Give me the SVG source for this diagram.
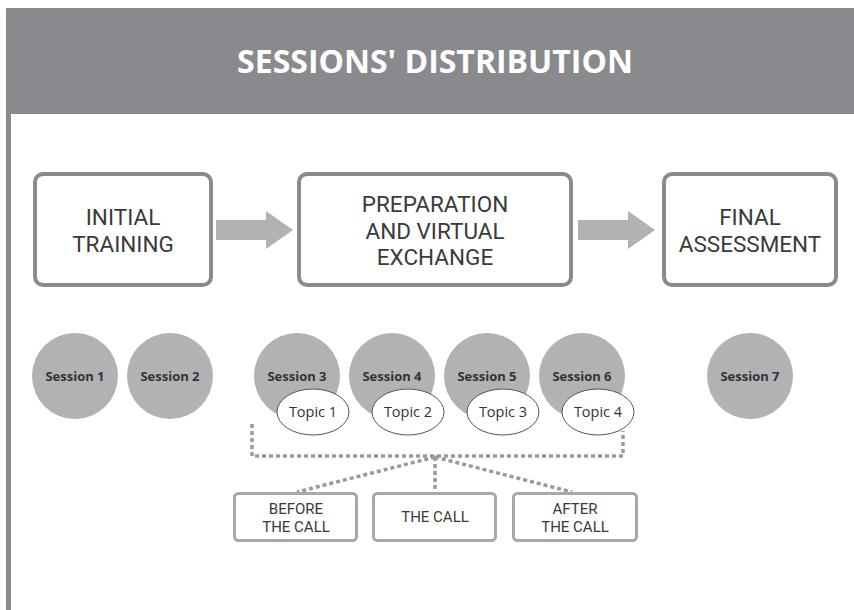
<svg xmlns="http://www.w3.org/2000/svg" width="854" height="610" viewBox="0 0 854 610">
<style>
text{font-family:"Open Sans","Noto Sans","DejaVu Sans",sans-serif;fill:#333;}
.title{font-size:32px;font-weight:bold;fill:#fff;}
.big{font-family:Roboto,"Open Sans",sans-serif;font-size:22.5px;fill:#3a3a3a;}
.box{fill:#fff;stroke:#8b8b8d;stroke-width:4;}
.arrow{fill:#b1b2b4;}
.sess{fill:#b1b2b4;}
.slbl{font-size:13px;font-weight:bold;fill:#333;}
.topic{fill:#fff;stroke:#555;stroke-width:1;}
.tlbl{font-size:14.5px;fill:#333;}
.sbox{fill:#fff;stroke:#a8a8aa;stroke-width:3;}
.small{font-family:Roboto,"Open Sans",sans-serif;font-size:15px;fill:#3a3a3a;}
.dot{fill:none;stroke:#9a9a9c;stroke-width:3.5;stroke-dasharray:4 3;}
</style>
<rect width="854" height="610" fill="#fff"/>
<g id="header">
<rect x="6" y="8" width="848" height="106" fill="#898a8e"/>
<rect x="6" y="8" width="5" height="602" fill="#898a8e"/>
<text class="title" x="435" y="73" text-anchor="middle">SESSIONS' DISTRIBUTION</text>
</g>
<g id="initial-training">
<rect class="box" x="35" y="174" width="176" height="111" rx="8"/>
<text class="big" text-anchor="middle"><tspan x="123" y="225">INITIAL</tspan><tspan x="123" y="252">TRAINING</tspan></text>
</g>
<g id="preparation">
<rect class="box" x="299" y="174" width="272" height="111" rx="8"/>
<text class="big" text-anchor="middle"><tspan x="435" y="212">PREPARATION</tspan><tspan x="435" y="238.5">AND VIRTUAL</tspan><tspan x="435" y="265">EXCHANGE</tspan></text>
</g>
<g id="final-assessment">
<rect class="box" x="664" y="174" width="172" height="111" rx="8"/>
<text class="big" text-anchor="middle"><tspan x="750" y="225">FINAL</tspan><tspan x="750" y="252">ASSESSMENT</tspan></text>
</g>
<g id="connectors">
<polygon class="arrow" points="216,220 266,220 266,211 293,230 266,249 266,240 216,240"/>
<polygon class="arrow" points="578,220 628,220 628,211 655,230 628,249 628,240 578,240"/>
<polyline class="dot" points="252,424 252,456 623,456 623,431"/>
<line class="dot" x1="435" y1="457" x2="297" y2="492"/>
<line class="dot" x1="435" y1="457" x2="435" y2="492"/>
<line class="dot" x1="435" y1="457" x2="572" y2="492"/>
</g>
<g id="session-1"><circle class="sess" cx="75" cy="376" r="43"/><text class="slbl" x="75" y="381" text-anchor="middle">Session 1</text></g>
<g id="session-2"><circle class="sess" cx="170" cy="376" r="43"/><text class="slbl" x="170" y="381" text-anchor="middle">Session 2</text></g>
<g id="session-3"><circle class="sess" cx="297" cy="376" r="43"/><text class="slbl" x="297" y="381" text-anchor="middle">Session 3</text></g>
<g id="session-4"><circle class="sess" cx="392" cy="376" r="43"/><text class="slbl" x="392" y="381" text-anchor="middle">Session 4</text></g>
<g id="session-5"><circle class="sess" cx="487" cy="376" r="43"/><text class="slbl" x="487" y="381" text-anchor="middle">Session 5</text></g>
<g id="session-6"><circle class="sess" cx="582" cy="376" r="43"/><text class="slbl" x="582" y="381" text-anchor="middle">Session 6</text></g>
<g id="session-7"><circle class="sess" cx="750" cy="376" r="43"/><text class="slbl" x="750" y="381" text-anchor="middle">Session 7</text></g>
<g id="topic-1"><ellipse class="topic" cx="313" cy="412" rx="36" ry="23"/><text class="tlbl" x="313" y="417" text-anchor="middle">Topic 1</text></g>
<g id="topic-2"><ellipse class="topic" cx="408" cy="412" rx="36" ry="23"/><text class="tlbl" x="408" y="417" text-anchor="middle">Topic 2</text></g>
<g id="topic-3"><ellipse class="topic" cx="503" cy="412" rx="36" ry="23"/><text class="tlbl" x="503" y="417" text-anchor="middle">Topic 3</text></g>
<g id="topic-4"><ellipse class="topic" cx="598" cy="412" rx="36" ry="23"/><text class="tlbl" x="598" y="417" text-anchor="middle">Topic 4</text></g>
<g id="before-the-call">
<rect class="sbox" x="234.5" y="493.5" width="122" height="47" rx="4"/>
<text class="small" text-anchor="middle"><tspan x="296" y="514">BEFORE</tspan><tspan x="296" y="531.5">THE CALL</tspan></text>
</g>
<g id="the-call">
<rect class="sbox" x="373.5" y="493.5" width="122" height="47" rx="4"/>
<text class="small" x="435" y="522" text-anchor="middle">THE CALL</text>
</g>
<g id="after-the-call">
<rect class="sbox" x="513.5" y="493.5" width="123" height="47" rx="4"/>
<text class="small" text-anchor="middle"><tspan x="575" y="514">AFTER</tspan><tspan x="575" y="531.5">THE CALL</tspan></text>
</g>
</svg>
